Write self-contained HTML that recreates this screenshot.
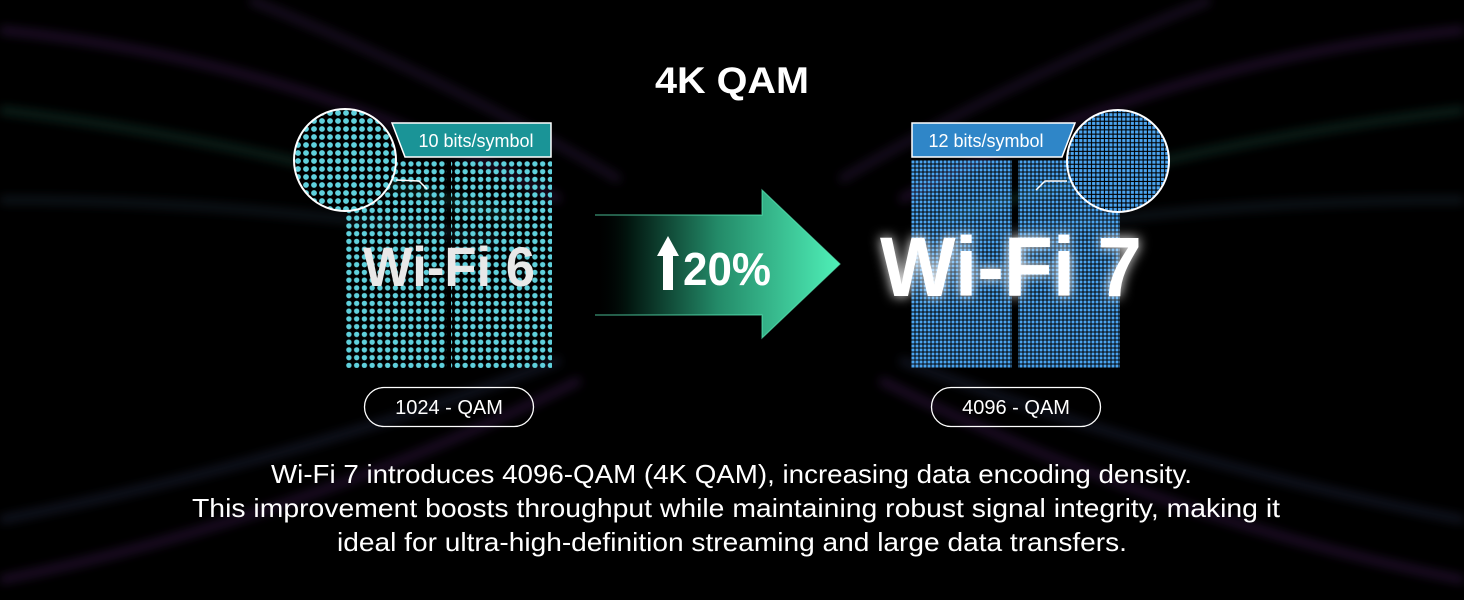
<!DOCTYPE html>
<html><head><meta charset="utf-8"><style>
html,body{margin:0;padding:0;background:#000;}
svg{display:block;}
text{font-family:"Liberation Sans",sans-serif;fill:#fff;}
</style></head><body>
<svg width="1464" height="600" viewBox="0 0 1464 600" xmlns="http://www.w3.org/2000/svg">
<defs>
<pattern id="d6" x="345" y="160" width="7.75" height="7.75" patternUnits="userSpaceOnUse">
<circle cx="3.9" cy="3.9" r="2.7" fill="#5fd0dc"/></pattern>
<pattern id="d6b" x="294" y="109" width="8" height="8" patternUnits="userSpaceOnUse">
<circle cx="4" cy="4" r="2.9" fill="#5fd0dc"/></pattern>
<pattern id="d7" x="911" y="160" width="4" height="4" patternUnits="userSpaceOnUse">
<rect x="0.5" y="0.5" width="3" height="3" fill="#4aa4f0"/></pattern>
<pattern id="d7b" x="911" y="160" width="4.3" height="4.3" patternUnits="userSpaceOnUse">
<rect x="0.5" y="0.5" width="3.2" height="3.2" fill="#4aa4f0"/></pattern>
<linearGradient id="ag" x1="595" x2="840" y1="0" y2="0" gradientUnits="userSpaceOnUse">
<stop offset="0" stop-color="#000" stop-opacity="0"/>
<stop offset="0.15" stop-color="#031a12"/>
<stop offset="0.5" stop-color="#238a68"/>
<stop offset="1" stop-color="#4ff0b8"/></linearGradient>
<filter id="glow" x="-20%" y="-50%" width="140%" height="200%"><feGaussianBlur stdDeviation="6"/></filter>
<filter id="bl"><feGaussianBlur stdDeviation="5"/></filter>
<clipPath id="c6"><circle cx="345" cy="160" r="51"/></clipPath>
<clipPath id="c7"><circle cx="1118" cy="161" r="51"/></clipPath>
</defs>
<rect width="1464" height="600" fill="#000"/>
<g opacity="0.45" stroke-width="8" fill="none" filter="url(#bl)">
<path d="M0 30 Q300 60 560 200" stroke="#4a2060"/>
<path d="M0 110 Q250 140 520 220" stroke="#1a5040"/>
<path d="M0 200 Q250 200 500 240" stroke="#203040"/>
<path d="M1464 30 Q1160 60 900 200" stroke="#4a2060"/>
<path d="M1464 110 Q1200 140 940 220" stroke="#1a5040"/>
<path d="M1464 200 Q1200 200 960 240" stroke="#203040"/>
<path d="M0 520 Q300 460 560 360" stroke="#2a3050"/>
<path d="M0 580 Q300 520 580 380" stroke="#4a2060"/>
<path d="M1464 520 Q1160 460 900 360" stroke="#2a3050"/>
<path d="M1464 580 Q1160 520 880 380" stroke="#4a2060"/>
<path d="M250 0 Q450 80 620 180" stroke="#3a2050"/>
<path d="M1210 0 Q1010 80 840 180" stroke="#3a2050"/>
</g>
<text x="732" y="93" font-size="37" font-weight="bold" text-anchor="middle" textLength="154" lengthAdjust="spacingAndGlyphs">4K QAM</text>

<!-- Wi-Fi 6 -->
<rect x="345" y="160" width="102" height="208" fill="url(#d6)"/>
<rect x="451" y="160" width="101" height="208" fill="url(#d6)"/>
<polygon points="392,123 551,123 551,157 405,157" fill="#1a9497" stroke="#fff" stroke-width="1.5"/>
<text x="476" y="147" font-size="18" text-anchor="middle">10 bits/symbol</text>
<circle cx="345" cy="160" r="51" fill="#000"/>
<rect x="290" y="105" width="110" height="110" fill="url(#d6b)" clip-path="url(#c6)"/>
<circle cx="345" cy="160" r="51" fill="none" stroke="#fff" stroke-width="2"/>
<polyline points="396,180 419,181 427,189" fill="none" stroke="#fff" stroke-width="1.5"/>
<text x="449" y="286" font-size="56" font-weight="bold" text-anchor="middle" style="fill:#e8e8e8" textLength="172" lengthAdjust="spacingAndGlyphs">Wi-Fi 6</text>
<rect x="364.5" y="387.5" width="169" height="39" rx="19.5" fill="none" stroke="#fff" stroke-width="1.3"/>
<text x="449" y="414" font-size="20" text-anchor="middle">1024 - QAM</text>

<!-- Arrow -->
<polygon points="595,215 762,215 762,190 840,264 762,338 762,315 595,315" fill="url(#ag)"/>
<polyline points="595,215 762,215 762,190 840,264 762,338 762,315 595,315" fill="none" stroke="#5ff5c0" stroke-width="1.2" stroke-opacity="0.6"/>
<polygon points="668,236 679,256 673,256 673,290 663,290 663,256 657,256" fill="#fff"/>
<text x="727" y="285" font-size="46" font-weight="bold" text-anchor="middle" textLength="88" lengthAdjust="spacingAndGlyphs">20%</text>

<!-- Wi-Fi 7 -->
<rect x="911" y="160" width="101" height="208" fill="url(#d7)"/>
<rect x="1018" y="160" width="102" height="208" fill="url(#d7)"/>
<polygon points="912,123 1075,123 1062,157 912,157" fill="#2f86c8" stroke="#fff" stroke-width="1.5"/>
<text x="986" y="147" font-size="18" text-anchor="middle">12 bits/symbol</text>
<circle cx="1118" cy="161" r="51" fill="#000"/>
<rect x="1065" y="108" width="110" height="110" fill="url(#d7b)" clip-path="url(#c7)"/>
<circle cx="1118" cy="161" r="51" fill="none" stroke="#fff" stroke-width="2"/>
<polyline points="1067,181 1045,181 1036,190" fill="none" stroke="#fff" stroke-width="1.5"/>
<text x="1011" y="296" font-size="84" font-weight="bold" text-anchor="middle" filter="url(#glow)" textLength="262" lengthAdjust="spacingAndGlyphs">Wi-Fi 7</text>
<text x="1011" y="296" font-size="84" font-weight="bold" text-anchor="middle" textLength="262" lengthAdjust="spacingAndGlyphs">Wi-Fi 7</text>
<rect x="931.5" y="387.5" width="169" height="39" rx="19.5" fill="none" stroke="#fff" stroke-width="1.3"/>
<text x="1016" y="414" font-size="20" text-anchor="middle">4096 - QAM</text>

<!-- Caption -->
<text x="271" y="483" font-size="26" textLength="921" lengthAdjust="spacingAndGlyphs">Wi-Fi 7 introduces 4096-QAM (4K QAM), increasing data encoding density.</text>
<text x="192" y="517" font-size="26" textLength="1088" lengthAdjust="spacingAndGlyphs">This improvement boosts throughput while maintaining robust signal integrity, making it</text>
<text x="337" y="551" font-size="26" textLength="790" lengthAdjust="spacingAndGlyphs">ideal for ultra-high-definition streaming and large data transfers.</text>
</svg>
</body></html>
